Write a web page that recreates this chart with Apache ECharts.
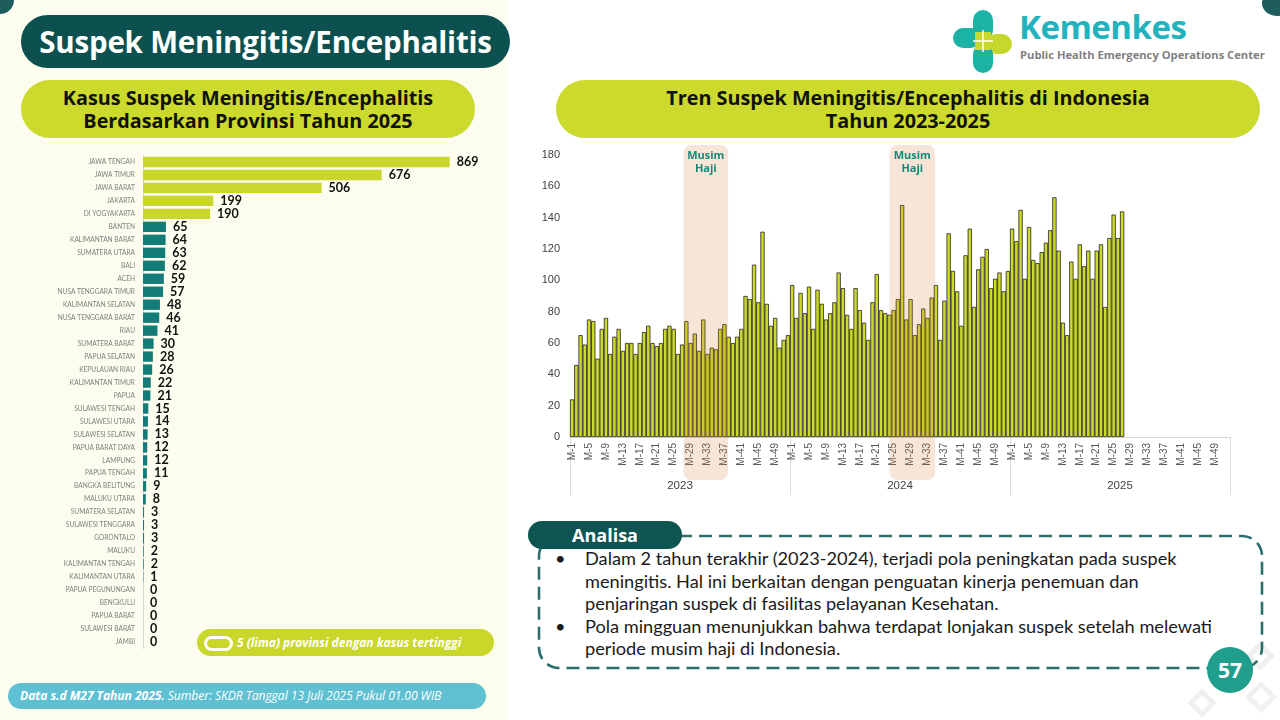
<!DOCTYPE html>
<html>
<head>
<meta charset="utf-8">
<script src="https://cdn.jsdelivr.net/npm/echarts@6/dist/echarts.min.js"></script>
<style>
  body { margin:0; }
  #page { position:relative; width:1280px; height:720px; overflow:hidden;
    background:linear-gradient(90deg,#fdfdef 0,#fdfdef 508px,#ffffff 508px); font-family:'Open Sans',sans-serif; }
  .abs { position:absolute; }
  .pill { position:absolute; border-radius:40px; }
  #chart { position:absolute; left:0; top:0; width:1280px; height:720px; }
</style>
</head>
<body>
<div id="page">
  <div class="abs" style="left:-14px;top:-14px;width:28px;height:28px;border-radius:50%;background:#1f5c5c"></div>
  <div class="abs" style="left:1262px;top:-10px;width:30px;height:26px;border-radius:50%;background:#1f5c5c"></div>

  <div class="pill" style="left:21px;top:15px;width:489px;height:53px;background:#0c5150;color:#fff;font-weight:700;font-size:29.5px;line-height:53px;text-align:center;letter-spacing:-0.2px;">Suspek Meningitis/Encephalitis</div>

  <div class="pill" style="left:21px;top:80px;width:454px;height:58px;background:#cbda2c;color:#111;font-weight:700;font-size:19.8px;line-height:23px;text-align:center;padding-top:6px;box-sizing:border-box;white-space:nowrap;">Kasus Suspek Meningitis/Encephalitis<br>Berdasarkan Provinsi Tahun 2025</div>

  <div class="pill" style="left:556px;top:80px;width:704px;height:58px;background:#cbda2c;color:#111;font-weight:700;font-size:19.8px;line-height:23px;text-align:center;padding-top:6px;box-sizing:border-box;white-space:nowrap;">Tren Suspek Meningitis/Encephalitis di Indonesia<br>Tahun 2023-2025</div>

  <svg class="abs" style="left:950px;top:8px" width="66" height="68" viewBox="0 0 66 68">
    <rect x="23" y="2" width="20" height="30" rx="10" fill="#1cb3a4"/>
    <rect x="3" y="20" width="28" height="20" rx="10" fill="#1cb3a4"/>
    <rect x="36" y="26" width="26" height="20" rx="10" fill="#c6d82e"/>
    <rect x="23" y="36" width="20" height="29" rx="10" fill="#1cb3a4"/>
    <rect x="25" y="24" width="16" height="18" fill="#c6d82e"/>
    <line x1="33" y1="22" x2="33" y2="44" stroke="#fff" stroke-width="1.5"/>
    <line x1="23" y1="33" x2="43" y2="33" stroke="#fff" stroke-width="1.5"/>
  </svg>
  <div class="abs" style="left:1019px;top:5px;font-size:33px;font-weight:700;color:#22b3bf;letter-spacing:-0.5px;line-height:44px;">Kemenkes</div>
  <div class="abs" style="left:1020px;top:47px;font-size:11.2px;font-weight:700;color:#808080;line-height:16px;white-space:nowrap;">Public Health Emergency Operations Center</div>

  <div class="pill" style="left:197px;top:629px;width:297px;height:27px;background:#c9d72b;"></div>
  <div class="abs" style="left:204px;top:636px;width:23px;height:9px;border:3px solid #fff;border-radius:8px;"></div>
  <div class="abs" style="left:237px;top:629px;height:27px;line-height:27px;font-size:12px;font-weight:700;font-style:italic;color:#fff;white-space:nowrap;">5 (lima) provinsi dengan kasus tertinggi</div>

  <div class="pill" style="left:8px;top:683px;width:478px;height:26px;background:#5fc0d2;"></div>
  <div class="abs" style="left:20px;top:683px;height:26px;line-height:26px;font-size:12.2px;font-style:italic;color:#fff;white-space:nowrap;letter-spacing:-0.1px;"><b>Data s.d M27 Tahun 2025.</b> Sumber: SKDR Tanggal 13 Juli 2025 Pukul 01.00 WIB</div>

  <svg class="abs" style="left:1180px;top:640px" width="100" height="80" viewBox="0 0 100 80">
    <g fill="none" stroke="#f0f0f0" stroke-width="5">
      <rect x="40" y="25" width="18" height="18" transform="rotate(45 49 34)"/>
      <rect x="72" y="8" width="16" height="16" transform="rotate(45 80 16)"/>
      <rect x="72" y="48" width="18" height="18" transform="rotate(45 81 57)"/>
      <rect x="14" y="55" width="16" height="16" transform="rotate(45 22 63)"/>
    </g>
  </svg>

  <svg class="abs" style="left:530px;top:528px" width="740" height="150" viewBox="0 0 740 150">
    <rect x="9" y="8" width="723" height="132" rx="20" fill="none" stroke="#2a6e6d" stroke-width="2.6" stroke-dasharray="13 7"/>
  </svg>
  <div class="pill" style="left:528px;top:521px;width:154px;height:28px;background:#0e5552;color:#fff;font-weight:700;font-size:18px;line-height:28px;text-align:center;">Analisa</div>

  <div class="abs" style="left:552px;top:547px;width:710px;font-family:Lato,sans-serif;font-size:18.2px;line-height:22.6px;color:#1a1a1a;white-space:nowrap;">
    <div style="position:relative;padding-left:33px;"><span style="position:absolute;left:3px;">•</span>Dalam 2 tahun terakhir (2023-2024), terjadi pola peningkatan pada suspek<br>meningitis. Hal ini berkaitan dengan penguatan kinerja penemuan dan<br>penjaringan suspek di fasilitas pelayanan Kesehatan.</div>
    <div style="position:relative;padding-left:33px;"><span style="position:absolute;left:3px;">•</span>Pola mingguan menunjukkan bahwa terdapat lonjakan suspek setelah melewati<br>periode musim haji di Indonesia.</div>
  </div>

  <div class="abs" style="left:1207px;top:647px;width:46px;height:46px;border-radius:50%;background:#1f9e8c;color:#fff;font-weight:700;font-size:21px;line-height:46px;text-align:center;">57</div>

  <div id="chart"></div>
</div>
<script>
// ---- Left chart: cases by province, 2025 ----
const provinces = ['JAWA TENGAH','JAWA TIMUR','JAWA BARAT','JAKARTA','DI YOGYAKARTA','BANTEN','KALIMANTAN BARAT','SUMATERA UTARA','BALI','ACEH','NUSA TENGGARA TIMUR','KALIMANTAN SELATAN','NUSA TENGGARA BARAT','RIAU','SUMATERA BARAT','PAPUA SELATAN','KEPULAUAN RIAU','KALIMANTAN TIMUR','PAPUA','SULAWESI TENGAH','SULAWESI UTARA','SULAWESI SELATAN','PAPUA BARAT DAYA','LAMPUNG','PAPUA TENGAH','BANGKA BELITUNG','MALUKU UTARA','SUMATERA SELATAN','SULAWESI TENGGARA','GORONTALO','MALUKU','KALIMANTAN TENGAH','KALIMANTAN UTARA','PAPUA PEGUNUNGAN','BENGKULU','PAPUA BARAT','SULAWESI BARAT','JAMBI'];
const provinceCases = [869,676,506,199,190,65,64,63,62,59,57,48,46,41,30,28,26,22,21,15,14,13,12,12,11,9,8,3,3,3,2,2,1,0,0,0,0,0];
const topCount = 5;

// ---- Right chart: weekly trend 2023-2025 ----
const years = ['2023','2024','2025'];
const weekLabelsPerYear = [];
for (let i = 1; i <= 52; i++) weekLabelsPerYear.push('M-' + i);
const weekCategories = [].concat(weekLabelsPerYear, weekLabelsPerYear, weekLabelsPerYear);
const weekly2023 = [24,46,65,59,75,74,50,69,76,53,64,69,55,60,60,53,60,67,71,60,58,60,69,71,69,53,59,74,60,66,55,75,53,57,56,69,72,64,60,64,69,90,88,110,86,131,85,71,76,57,62,65];
const weekly2024 = [97,76,92,79,96,69,94,85,75,79,86,105,95,78,69,95,81,73,62,86,104,81,79,78,81,88,148,75,88,65,72,82,76,89,97,62,87,130,106,93,71,116,133,83,107,115,120,95,101,105,93,106];
const weekly2025 = [133,125,145,101,134,113,111,118,124,132,153,119,73,65,112,101,123,109,119,101,119,123,83,127,142,127,144];
const yTicks = { min: 0, max: 180, interval: 20 };
// Hajj season spans, in week-band units from the start of the axis
const hajjSpans = [[26.8, 37.4], [75.5, 86.3]];
const hajjLabel = 'Musim\nHaji';

const YG = '#c9d72c', TEAL = '#137c78';
const chart = echarts.init(document.getElementById('chart'), null, { renderer: 'canvas' });

const option = {
  backgroundColor: 'transparent',
  animation: false,
  grid: [
    { left: 143, top: 155.5, width: 353, height: 493 },
    { left: 570, right: 50, top: 155, bottom: 283 }
  ],
  xAxis: [
    { gridIndex: 0, type: 'value', min: 0, max: 1000, show: false },
    { gridIndex: 1, type: 'category', data: weekCategories,
      axisLine: { lineStyle: { color: '#d9d9d9' } }, axisTick: { show: false },
      axisLabel: { interval: 3, rotate: 90, fontSize: 10, color: '#595959', fontFamily: 'Liberation Sans', margin: 6 } },
    { gridIndex: 1, type: 'category', data: years, position: 'bottom', offset: 58,
      axisLine: { show: false },
      axisTick: { show: true, inside: true, length: 58, lineStyle: { color: '#d9d9d9' } },
      axisLabel: { inside: true, margin: 3, fontSize: 11.5, color: '#404040', fontFamily: 'Liberation Sans' } }
  ],
  yAxis: [
    { gridIndex: 0, type: 'category', data: provinces, inverse: true,
      axisLine: { lineStyle: { color: '#d9d9d9' } }, axisTick: { show: false },
      axisLabel: { fontSize: 6.6, color: '#7f7f7f', fontFamily: 'Lato', margin: 8 } },
    { gridIndex: 1, type: 'value', min: yTicks.min, max: yTicks.max, interval: yTicks.interval,
      splitLine: { show: false }, axisLine: { show: false }, axisTick: { show: false },
      axisLabel: { fontSize: 11, color: '#404040', fontFamily: 'Liberation Sans', margin: 10 } }
  ],
  series: [
    { type: 'bar', xAxisIndex: 0, yAxisIndex: 0, barCategoryGap: '20%',
      data: provinceCases.map((v, i) => ({ value: v, itemStyle: { color: i < topCount ? YG : TEAL } })),
      label: { show: true, position: 'right', distance: 7, fontFamily: 'Lato', fontWeight: 'bold', fontSize: 12.5, color: '#111' } },
    { type: 'bar', xAxisIndex: 1, yAxisIndex: 1, barCategoryGap: '0%',
      data: [].concat(weekly2023, weekly2024, weekly2025),
      itemStyle: { color: '#cdda2c', borderColor: '#1a1a1a', borderWidth: 0.75 } }
  ]
};
chart.setOption(option);

function drawHajj() {
  const c0 = chart.convertToPixel({ xAxisIndex: 1 }, 0);
  const c1 = chart.convertToPixel({ xAxisIndex: 1 }, 1);
  const bw = c1 - c0;
  const start = c0 - bw / 2;
  const yTop = chart.convertToPixel({ yAxisIndex: 1 }, yTicks.max) - 10;
  const yBot = chart.convertToPixel({ yAxisIndex: 1 }, 0) + 43;
  const els = [];
  hajjSpans.forEach(([a, b]) => {
    const x0 = start + a * bw, x1 = start + b * bw;
    els.push({ type: 'rect', z: 10, silent: true,
      shape: { x: x0, y: yTop, width: x1 - x0, height: yBot - yTop, r: 8 },
      style: { fill: 'rgba(214,130,60,0.2)' } });
    els.push({ type: 'text', z: 11, silent: true,
      style: { text: hajjLabel, x: (x0 + x1) / 2, y: yTop + 4, align: 'center', verticalAlign: 'top',
        fill: '#17877a', font: 'bold 11px "Open Sans"', lineHeight: 13 } });
  });
  chart.setOption({ graphic: els });
}
drawHajj();
</script>
</body>
</html>
